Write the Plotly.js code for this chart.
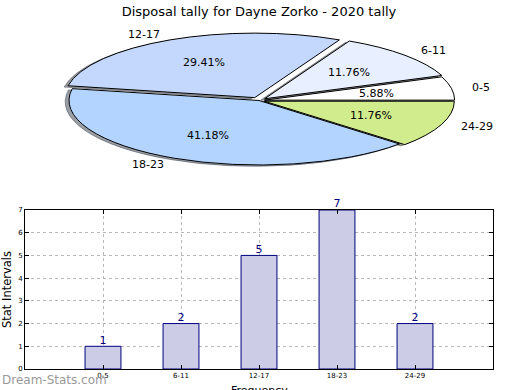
<!DOCTYPE html>
<html><head><meta charset="utf-8">
<script src="https://cdn.plot.ly/plotly-3.0.1.min.js"></script>
<style>
html,body{margin:0;padding:0;background:#fff;overflow:hidden}
.pielayer path{vector-effect:non-scaling-stroke}
</style>
</head><body>
<div id="chart" style="width:520px;height:390px"></div>
<script>
// ---- data ----
const chartTitle = 'Disposal tally for Dayne Zorko - 2020 tally';
const categories = ['0-5', '6-11', '12-17', '18-23', '24-29'];
const counts = [1, 2, 5, 7, 2];
const sliceColors = ['#ffffff', '#e8f0ff', '#c4d8fd', '#b3d4ff', '#d0ec8c'];
const slicePull = [0.03, 0.04, 0.05, 0, 0.03];
const yTickVals = [0, 1, 2, 3, 4, 5, 6, 7];
const xTitle = 'Frequency';
const yTitle = 'Stat Intervals';
const watermark = 'Dream-Stats.com';

// ---- geometry (pixels) ----
const W = 520, H = 390;
const M = {l: 25, r: 27, t: 210, b: 21};
const PW = W - M.l - M.r, PH = H - M.t - M.b;
const pie = {cx: 259, cy: 100.5, rx: 190, ry: 64.5};
const FONT = 'DejaVu Sans, sans-serif';

const px2x = p => (p - M.l) / PW;
const px2y = p => (H - M.b - p) / PH;

const total = counts.reduce((a, b) => a + b, 0);
const pctText = counts.map(c => (c / total * 100).toFixed(2) + '%');
// first slice starts at 3 o'clock and runs counterclockwise (Plotly anchors its end edge at rotation)
const pieRotation = 90 - counts[0] / total * 360;

function shade(hex) {
  const n = parseInt(hex.slice(1), 16);
  const r = (n >> 16) & 255, g = (n >> 8) & 255, b = n & 255;
  return `rgba(${Math.round(r * 0.3)},${Math.round(g * 0.3)},${Math.round(b * 0.3)},0.5)`;
}

// pie labels placed like matplotlib (labeldistance 1.1, pctdistance 0.6)
const annotations = [];
let acc = 0;
counts.forEach((c, i) => {
  const mid = (acc + c / 2) / total * 2 * Math.PI;
  acc += c;
  const cs = Math.cos(mid), sn = Math.sin(mid);
  const e = slicePull[i];
  const lx = pie.cx + cs * (1.1 + e) * pie.rx;
  const ly = pie.cy - sn * (1.1 + e) * pie.ry;
  const tx = pie.cx + cs * (0.6 + e) * pie.rx;
  const ty = pie.cy - sn * (0.6 + e) * pie.ry;
  annotations.push({
    text: categories[i], x: px2x(lx), y: px2y(ly), xref: 'paper', yref: 'paper',
    xanchor: cs >= 0 ? 'left' : 'right', yanchor: 'middle', showarrow: false,
    font: {family: FONT, size: 11, color: '#000'}
  });
  annotations.push({
    text: pctText[i], x: px2x(tx), y: px2y(ty), xref: 'paper', yref: 'paper',
    xanchor: 'center', yanchor: 'middle', showarrow: false,
    font: {family: FONT, size: 11, color: '#000'}
  });
});
annotations.push({
  text: watermark, x: px2x(0), y: px2y(380), xref: 'paper', yref: 'paper',
  xanchor: 'left', yanchor: 'middle', showarrow: false,
  font: {family: FONT, size: 12, color: '#999999'}
});
// x axis title sits partly below the bottom edge, as in the original
annotations.push({
  text: xTitle, x: 0.5, y: px2y(382), xref: 'paper', yref: 'paper',
  xanchor: 'center', yanchor: 'top', showarrow: false,
  font: {family: FONT, size: 11, color: '#000'}
});

const traces = [
  {
    type: 'bar', x: categories, y: counts, width: 0.46,
    marker: {color: '#ccccE6', line: {color: '#000080', width: 1}},
    hoverinfo: 'skip', showlegend: false
  },
  {
    type: 'scatter', mode: 'text', x: categories, y: counts,
    text: counts.map(String), textposition: 'top center',
    textfont: {family: FONT, size: 11, color: '#000080'},
    cliponaxis: false, hoverinfo: 'skip', showlegend: false
  },
  {
    type: 'pie', values: counts, labels: categories, sort: false,
    direction: 'counterclockwise', rotation: pieRotation, pull: slicePull,
    marker: {colors: sliceColors.map(shade), line: {color: sliceColors.map(shade), width: 1}},
    textinfo: 'none', hoverinfo: 'skip', showlegend: false
  },
  {
    type: 'pie', values: counts, labels: categories, sort: false,
    direction: 'counterclockwise', rotation: pieRotation, pull: slicePull,
    marker: {colors: sliceColors, line: {color: '#000000', width: 1}},
    textinfo: 'none', hoverinfo: 'skip', showlegend: false
  }
];

const axisCommon = {
  showline: true, linecolor: '#000', linewidth: 1, mirror: 'ticks',
  ticks: 'inside', ticklen: 4, tickcolor: '#000',
  showgrid: true, gridcolor: '#b8b8b8', griddash: 'dot', gridwidth: 1,
  zeroline: false, tickfont: {family: FONT, size: 7, color: '#000'}
};

const layout = {
  width: W, height: H, margin: M,
  paper_bgcolor: '#fff', plot_bgcolor: '#fff',
  font: {family: FONT},
  title: {text: chartTitle, x: 0.5, xref: 'paper', y: 1 - 11 / H, yanchor: 'middle',
          font: {family: FONT, size: 13, color: '#000'}},
  xaxis: Object.assign({}, axisCommon, {
    type: 'category', range: [-1, 5], categoryorder: 'array', categoryarray: categories
  }),
  yaxis: Object.assign({}, axisCommon, {
    range: [0, 7], tickvals: yTickVals,
    title: {text: yTitle, standoff: 4, font: {family: FONT, size: 11.5, color: '#000'}}
  }),
  annotations: annotations,
  showlegend: false
};

const gd = document.getElementById('chart');
function squashPie() {
  const groups = gd.querySelectorAll('.pielayer g.trace');
  const pieIdx = [2, 3];
  groups.forEach((g, k) => {
    const cd = gd.calcdata[pieIdx[k]][0];
    const sx = pie.rx / cd.r, sy = pie.ry / cd.r;
    const ox = k === 0 ? -0.02 * pie.rx : 0;
    const oy = k === 0 ? 0.02 * pie.ry : 0;
    g.setAttribute('transform',
      `translate(${pie.cx + ox},${pie.cy + oy}) scale(${sx},${sy}) translate(${-cd.cx},${-cd.cy})`);
  });
}
Plotly.newPlot(gd, traces, layout, {staticPlot: true}).then(() => {
  squashPie();
  gd.on && gd.on('plotly_afterplot', squashPie);
});
</script>
</body></html>
